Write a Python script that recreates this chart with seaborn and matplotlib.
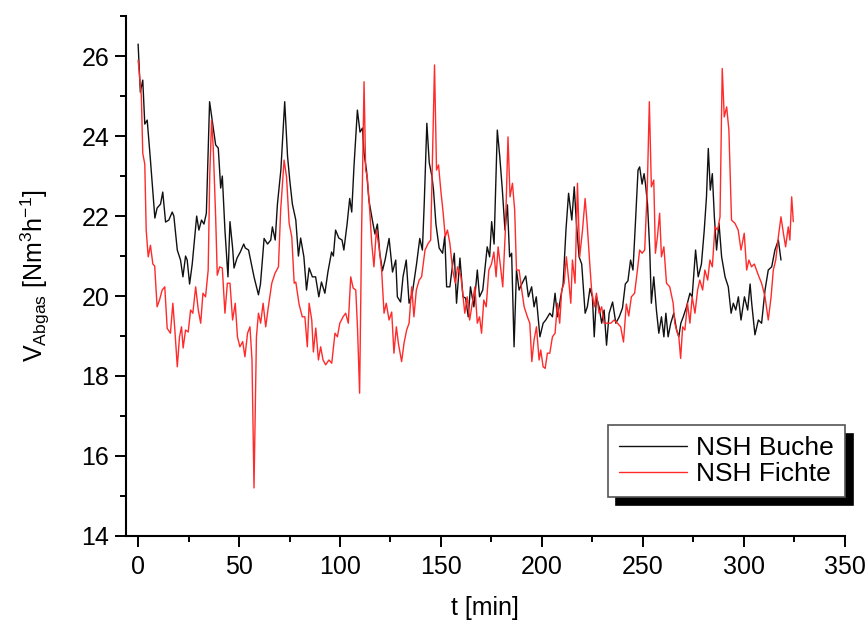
import numpy as np
import pandas as pd
import seaborn as sns
import matplotlib
matplotlib.use("Agg")
import matplotlib.pyplot as plt
from matplotlib.ticker import MultipleLocator


# NSH Buche (beech)
t_buche = [0, 1.1, 2.3, 3.3, 4.5, 6.1, 8.3, 9.4, 11.1, 12.2, 13.6, 15.2, 16.9, 17.7, 19.4, 21.0, 22.2, 23.5, 24.3, 25.5,
           26.8, 29.0, 30.1, 31.4, 32.6, 33.8, 35.4, 36.7, 38.4, 39.7, 40.9, 41.7, 43.0, 44.5, 45.5, 46.8, 47.5, 49.0, 50.6, 52.3,
           53.1, 54.7, 57.4, 59.6, 60.6, 62.4, 64.1, 65.7, 66.5, 67.9, 69.0, 70.7, 72.6, 74.0, 75.1, 76.4, 78.1, 79.4, 80.5, 82.1,
           83.4, 84.7, 86.3, 87.9, 89.5, 90.8, 92.5, 94.0, 95.8, 96.7, 97.8, 99.4, 101.0, 101.9, 103.5, 104.8, 105.8, 106.9, 108.6, 109.9,
           111.1, 111.9, 113.1, 114.3, 116.0, 117.3, 118.5, 119.7, 121.0, 122.3, 124.3, 126.0, 127.6, 128.4, 130.0, 131.2, 132.8, 134.2, 135.8, 137.9,
           139.5, 140.8, 141.7, 143.0, 144.2, 145.5, 146.3, 147.5, 149.1, 150.8, 151.9, 152.8, 154.4, 155.8, 156.6, 157.7, 159.4, 160.9, 162.2, 163.5,
           164.6, 166.3, 168.0, 169.1, 170.7, 172.9, 174.1, 175.1, 176.3, 177.9, 179.1, 180.4, 181.7, 182.9, 184.0, 185.0, 186.2, 187.4, 188.7, 190.0,
           192.0, 193.3, 194.9, 196.1, 197.2, 199.0, 200.6, 201.9, 203.9, 205.2, 206.5, 207.7, 209.3, 210.5, 211.9, 213.2, 214.8, 216.0, 217.1, 218.4,
           219.7, 221.4, 222.5, 223.8, 225.0, 225.9, 227.0, 228.3, 229.6, 230.8, 232.0, 233.3, 235.0, 236.6, 238.3, 239.9, 241.3, 242.6, 243.9, 245.1,
           246.3, 247.6, 248.4, 249.6, 250.6, 251.3, 252.3, 253.4, 254.2, 255.4, 256.7, 257.9, 259.2, 260.4, 261.4, 262.5, 263.8, 265.3, 266.7, 267.8,
           268.8, 270.0, 271.6, 273.3, 274.4, 276.1, 277.4, 279.0, 280.4, 281.5, 282.4, 283.4, 284.4, 285.4, 286.5, 287.7, 289.0, 290.7, 292.3, 293.7,
           294.8, 296.0, 297.3, 298.6, 300.3, 301.9, 303.1, 303.9, 305.5, 307.2, 308.8, 310.5, 312.1, 313.8, 315.4, 317.1, 318.4]
v_buche = [26.3, 25.1, 25.4, 24.3, 24.4, 23.4, 21.95, 22.2, 22.3, 22.6, 21.85, 21.9, 22.1, 22.0, 21.15, 20.9, 20.48, 21.0, 20.9, 20.3,
           20.8, 22.0, 21.65, 21.9, 21.8, 22.07, 24.86, 24.4, 23.78, 23.7, 22.7, 23.0, 21.65, 20.48, 21.86, 21.2, 20.7, 20.95, 21.1, 21.3,
           21.2, 21.15, 20.48, 20.03, 20.3, 21.44, 21.3, 21.4, 21.73, 21.4, 22.3, 23.15, 24.86, 23.5, 22.9, 22.3, 21.9, 21.0, 21.45, 20.98,
           20.15, 20.7, 20.48, 20.48, 19.98, 20.35, 20.07, 20.6, 21.1, 21.0, 21.65, 21.45, 21.4, 21.15, 21.8, 22.44, 22.1, 23.23, 24.65, 24.1,
           24.2, 23.57, 23.15, 22.4, 21.9, 21.55, 21.8, 21.07, 20.63, 20.9, 21.44, 20.6, 20.9, 19.98, 19.85, 20.48, 20.9, 19.82, 20.07, 20.8,
           21.44, 21.15, 22.3, 24.32, 23.33, 23.0, 22.65, 21.8, 21.2, 21.07, 21.5, 20.23, 20.23, 20.8, 21.07, 19.82, 20.95, 19.98, 19.95, 19.48,
           20.23, 19.73, 20.65, 19.98, 20.15, 21.23, 20.98, 21.86, 21.3, 24.15, 23.5, 22.65, 21.65, 22.28, 20.98, 21.07, 18.73, 20.65, 20.15, 20.3,
           20.5, 19.98, 20.23, 19.73, 19.98, 18.98, 19.32, 19.4, 19.57, 19.48, 20.07, 19.48, 19.98, 20.3, 21.65, 22.57, 21.9, 22.73, 21.82, 20.98,
           20.8, 19.57, 19.73, 20.19, 19.98, 18.98, 19.98, 19.73, 19.32, 19.65, 18.77, 19.57, 19.85, 19.32, 19.48, 19.7, 20.3, 20.38, 20.9, 20.65,
           21.82, 23.15, 23.23, 22.8, 23.06, 22.8, 22.3, 21.15, 19.82, 20.48, 19.65, 19.07, 19.48, 18.98, 19.57, 18.98, 19.32, 19.57, 19.15, 18.98,
           19.32, 19.48, 19.73, 20.07, 19.98, 21.15, 20.48, 20.8, 21.65, 22.48, 23.69, 22.65, 23.06, 21.98, 21.15, 21.82, 20.98, 20.48, 20.23, 19.57,
           19.82, 19.65, 19.98, 19.4, 19.98, 19.65, 20.3, 19.82, 19.03, 19.4, 19.32, 20.15, 20.65, 20.73, 21.15, 21.4, 20.9]

# NSH Fichte (spruce)
t_fichte = [0, 1.6, 2.3, 3.3, 4.0, 5.0, 6.1, 7.3, 8.2, 9.4, 10.6, 11.9, 13.2, 14.4, 16.0, 17.2, 18.2, 19.4, 20.5, 21.5,
            22.3, 23.5, 24.8, 26.0, 27.1, 28.5, 29.8, 31.0, 32.1, 33.4, 34.7, 35.5, 36.4, 37.2, 38.4, 39.2, 40.4, 41.7, 43.0, 44.2,
            45.5, 46.8, 48.1, 49.2, 50.4, 51.8, 52.9, 54.2, 55.4, 56.4, 57.4, 58.6, 59.6, 60.7, 61.9, 63.2, 64.5, 66.2, 67.8, 69.5,
            70.6, 72.3, 73.5, 74.8, 76.1, 77.3, 78.1, 79.7, 81.3, 82.6, 83.8, 84.7, 86.0, 86.8, 88.0, 89.3, 90.4, 91.6, 92.9, 94.5,
            95.9, 97.5, 98.7, 99.9, 101.5, 102.8, 104.1, 105.3, 106.5, 107.8, 108.7, 109.7, 110.7, 111.9, 112.7, 113.5, 114.7, 115.7, 116.8, 118.0,
            119.3, 120.6, 121.8, 122.9, 124.3, 125.6, 126.7, 127.9, 128.9, 130.5, 131.7, 133.0, 134.2, 135.5, 136.6, 137.8, 139.2, 140.4, 142.1, 143.7,
            144.9, 145.7, 146.8, 147.8, 148.8, 149.9, 151.1, 152.1, 153.2, 154.4, 155.8, 157.1, 158.2, 159.9, 161.8, 163.0, 164.2, 165.5, 166.8, 168.0,
            169.1, 170.1, 171.2, 172.4, 173.7, 175.0, 176.2, 177.3, 178.3, 179.5, 180.6, 181.9, 183.2, 184.2, 185.4, 186.5, 187.4, 188.7, 190.0, 191.2,
            192.8, 194.0, 195.0, 196.1, 197.3, 198.6, 199.4, 200.6, 201.6, 202.7, 203.9, 205.2, 206.5, 207.7, 208.8, 209.8, 211.0, 212.1, 213.4, 214.3,
            215.1, 216.4, 217.6, 218.7, 220.1, 221.4, 222.5, 223.7, 224.6, 225.9, 227.0, 228.3, 229.6, 230.8, 232.4, 234.1, 235.7, 237.4, 239.0, 240.4,
            241.8, 243.0, 244.3, 245.9, 247.3, 248.4, 249.6, 250.9, 252.2, 253.2, 254.2, 255.4, 256.2, 257.2, 258.3, 259.2, 260.4, 261.7, 263.3, 265.0,
            265.8, 266.7, 267.8, 268.7, 269.7, 270.8, 272.1, 273.3, 274.4, 275.8, 277.1, 278.2, 279.6, 280.7, 282.1, 283.2, 284.4, 285.7, 287.0, 288.2,
            289.3, 290.3, 291.5, 292.6, 293.9, 295.6, 297.2, 298.6, 300.2, 301.4, 302.5, 303.8, 305.2, 306.3, 307.5, 308.8, 310.5, 312.1, 313.5, 314.6,
            315.8, 317.1, 318.4, 319.6, 320.7, 322.0, 322.8, 323.7, 324.5]
v_fichte = [25.9, 25.0, 23.57, 23.3, 21.65, 20.98, 21.27, 20.8, 20.75, 19.73, 19.9, 20.15, 20.23, 19.19, 19.07, 19.82, 19.15, 18.23, 18.98, 19.23,
            18.7, 19.15, 19.1, 19.65, 19.57, 20.23, 19.65, 19.32, 20.07, 19.98, 20.65, 23.07, 24.4, 23.73, 21.98, 20.52, 20.73, 20.7, 19.57, 20.32,
            20.32, 19.4, 19.82, 18.98, 18.73, 18.86, 18.48, 19.07, 19.23, 18.4, 15.2, 18.98, 19.57, 19.32, 19.82, 19.23, 19.73, 20.32, 20.57, 20.73,
            22.15, 23.4, 22.98, 21.82, 21.48, 20.32, 20.35, 19.8, 19.48, 19.48, 18.73, 19.82, 19.4, 18.6, 19.2, 18.4, 18.73, 18.4, 18.28, 18.4,
            18.32, 19.07, 18.98, 19.32, 19.48, 19.57, 19.32, 20.48, 20.2, 20.15, 19.15, 17.57, 21.65, 25.36, 23.15, 22.98, 22.15, 21.32, 20.73, 21.65,
            21.23, 20.65, 19.57, 19.82, 19.4, 19.6, 18.57, 19.23, 18.82, 18.36, 18.82, 19.15, 19.32, 20.23, 19.48, 20.15, 20.4, 20.48, 21.15, 21.32,
            21.4, 23.23, 25.78, 23.15, 23.28, 22.65, 22.07, 21.48, 21.65, 21.32, 20.65, 20.32, 20.73, 20.48, 19.57, 19.98, 19.4, 19.82, 20.23, 19.32,
            19.48, 19.07, 19.9, 19.73, 20.65, 20.8, 21.1, 20.48, 21.23, 20.73, 20.23, 21.65, 23.98, 22.48, 22.82, 22.15, 20.65, 20.65, 20.15, 19.73,
            19.48, 19.32, 18.36, 18.9, 19.23, 18.4, 18.65, 18.23, 18.19, 18.57, 18.57, 18.98, 19.07, 19.82, 19.32, 20.15, 20.32, 20.98, 20.32, 19.82,
            20.9, 20.32, 22.82, 20.98, 21.65, 22.44, 21.73, 20.8, 20.15, 19.73, 20.07, 19.57, 19.73, 19.32, 19.32, 19.32, 19.4, 19.32, 19.23, 18.85,
            19.8, 19.5, 19.98, 20.07, 20.65, 21.15, 21.07, 21.15, 22.73, 24.86, 22.73, 22.9, 21.07, 21.48, 22.07, 20.98, 21.23, 20.32, 20.23, 19.82,
            19.32, 19.15, 18.98, 18.44, 19.23, 19.15, 19.82, 19.32, 19.98, 19.57, 20.15, 20.4, 20.15, 20.65, 20.4, 20.9, 20.73, 21.73, 21.65, 21.98,
            25.69, 24.48, 24.73, 24.15, 21.9, 21.82, 21.65, 21.15, 21.57, 20.65, 20.9, 20.73, 20.8, 20.65, 20.48, 20.32, 19.98, 19.4, 19.98, 20.65,
            20.9, 21.48, 21.98, 21.57, 21.23, 21.73, 21.4, 22.48, 21.86]

df = pd.concat([
    pd.DataFrame({"t": t_buche, "v": v_buche, "Probe": "NSH Buche"}),
    pd.DataFrame({"t": t_fichte, "v": v_fichte, "Probe": "NSH Fichte"}),
])

sns.set_style("ticks")
plt.rcParams["font.family"] = ["Liberation Sans", "DejaVu Sans"]
plt.rcParams["text.color"] = "black"
plt.rcParams["axes.labelcolor"] = "black"

fig = plt.figure(figsize=(8.66, 6.21), dpi=100)
ax = fig.add_axes([0.1455, 0.137, 0.830, 0.837])

sns.lineplot(data=df, x="t", y="v", hue="Probe", palette={"NSH Buche": "#111111", "NSH Fichte": "#ff2a2a"},
             estimator=None, sort=False, linewidth=1.0, ax=ax)

ax.set_xlim(-6, 350)
ax.set_ylim(14, 27)
ax.xaxis.set_major_locator(MultipleLocator(50))
ax.xaxis.set_minor_locator(MultipleLocator(25))
ax.yaxis.set_major_locator(MultipleLocator(2))
ax.yaxis.set_minor_locator(MultipleLocator(1))
ax.tick_params(which="major", length=8, width=1.4, labelsize=18, direction="out", colors="black")
ax.tick_params(axis="x", which="major", pad=6)
ax.tick_params(axis="y", which="major", pad=4)
ax.tick_params(which="minor", length=4, width=1.4, direction="out", colors="black")
for s in ["left", "bottom"]:
    ax.spines[s].set_linewidth(1.5)
    ax.spines[s].set_color("black")
sns.despine(ax=ax)

ax.set_xlabel("t [min]", fontsize=18, labelpad=12)
ax.set_ylabel(r"V$_{\mathregular{Abgas}}$ [Nm$^{\mathregular{3}}$h$^{\mathregular{-1}}$]", fontsize=18, labelpad=21)

leg = ax.legend(loc="lower right", bbox_to_anchor=(1.0, 0.075), borderaxespad=0, fontsize=19,
                fancybox=False, edgecolor="#555555", framealpha=1, handlelength=2.6, handletextpad=0.35,
                borderpad=0.4, labelspacing=0.1,
                shadow={"ox": 6, "oy": -6, "facecolor": "black", "edgecolor": "black", "alpha": 1})
leg.get_frame().set_linewidth(1.2)

fig.savefig("out.png", dpi=100)
